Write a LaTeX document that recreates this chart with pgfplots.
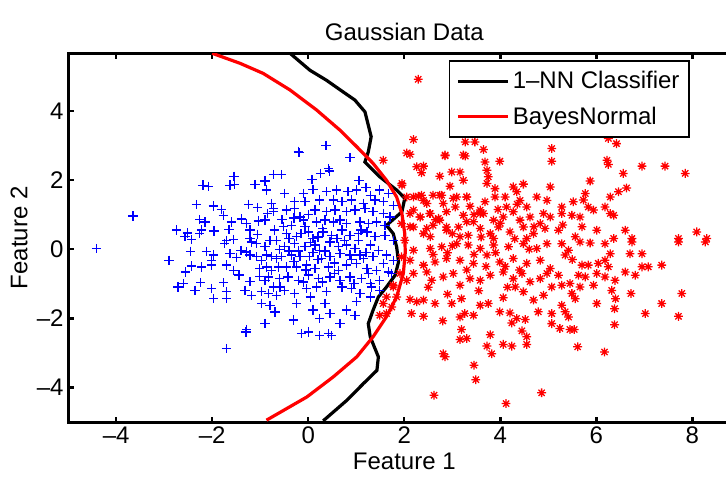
\documentclass[border=0pt]{standalone}
\usepackage{fontspec}
\setmainfont{Liberation Sans}
\usepackage{pgfplots}
\pgfplotsset{compat=1.18}
\pgfdeclareplotmark{mstar}{%
 \pgfpathmoveto{\pgfpoint{\pgfplotmarksize}{0pt}}\pgfpathlineto{\pgfpoint{-\pgfplotmarksize}{0pt}}%
 \pgfpathmoveto{\pgfpoint{0pt}{\pgfplotmarksize}}\pgfpathlineto{\pgfpoint{0pt}{-\pgfplotmarksize}}%
 \pgfpathmoveto{\pgfpoint{0.707\pgfplotmarksize}{0.707\pgfplotmarksize}}\pgfpathlineto{\pgfpoint{-0.707\pgfplotmarksize}{-0.707\pgfplotmarksize}}%
 \pgfpathmoveto{\pgfpoint{-0.707\pgfplotmarksize}{0.707\pgfplotmarksize}}\pgfpathlineto{\pgfpoint{0.707\pgfplotmarksize}{-0.707\pgfplotmarksize}}%
 \pgfusepathqstroke}
\newcommand{\fs}{\fontsize{18}{21}\selectfont}
\begin{document}
\begin{tikzpicture}
\begin{axis}[
 x=36pt, y=25.95pt,
 xmin=-5, xmax=9, ymin=-5, ymax=5.66,
 axis line style={line width=2.2pt},
 tick style={line width=1.8pt, black},
 tick align=inside, major tick length=4pt,
 xtick={-4,-2,0,2,4,6,8}, xticklabels={–4,–2,0,2,4,6,8},
 ytick={-4,-2,0,2,4}, yticklabels={–4,–2,0,2,4},
 ticklabel style={font=\fs},
 label style={font=\fs},
 title style={font=\fs},
 title={Gaussian Data},
 xlabel={Feature 1}, ylabel={Feature 2},
 legend style={at={(0.9245,0.9816)}, anchor=north east, font=\fs, draw=black, line width=1.2pt, cells={anchor=west}, row sep=8pt, inner xsep=5pt, inner ysep=6pt},
 legend image code/.code={\draw[#1] (0pt,0pt) -- (38pt,0pt);},
]
\coordinate (BL) at (axis cs:-6.42,-6.65);
\coordinate (TR) at (axis cs:8.70,7.20);
\addplot[forget plot, only marks, mark=+, color=blue, mark size=3.5pt, mark options={line width=1pt}] table {
-1.55 2.11
-0.72 2.16
-2.19 1.85
-2.08 1.82
-1.63 1.85
-1.53 1.87
-1.11 1.87
-0.90 1.97
-0.87 1.71
-2.33 1.29
-1.98 1.25
-1.81 1.15
-1.77 0.98
-1.24 1.30
-1.06 1.20
-0.76 1.32
-0.72 1.18
-0.85 1.03
-0.73 1.08
-2.26 0.86
-2.15 0.79
-1.60 0.79
-1.39 0.87
-1.28 0.74
-1.04 0.81
-0.90 0.84
-2.74 0.55
-2.52 0.47
-2.57 0.36
-2.43 0.28
-2.22 0.55
-2.26 0.45
-1.96 0.53
-1.65 0.57
-1.21 0.55
-1.06 0.43
-1.21 0.31
-1.70 0.26
-1.74 0.16
-1.56 0.28
-1.40 -0.03
-1.28 -0.08
-1.18 0.21
-1.08 0.16
-0.90 0.07
-0.80 0.26
-0.66 0.26
-2.45 -0.06
-2.12 -0.06
-1.98 -0.17
-2.01 -0.32
-2.01 -0.46
-1.63 -0.13
-1.49 -0.24
-1.21 -0.17
-1.08 -0.22
-0.97 -0.32
-0.87 -0.17
-0.76 -0.22
-0.66 -0.27
-2.90 -0.32
-2.43 -0.49
-2.22 -0.51
-2.55 -0.66
-1.70 -0.46
-1.56 -0.61
-1.44 -0.75
-1.01 -0.56
-0.87 -0.51
-0.76 -0.61
-0.62 -0.51
-2.60 -0.99
-2.71 -1.09
-2.24 -0.97
-2.36 -1.19
-2.01 -1.14
-1.76 -0.97
-1.70 -1.23
-1.21 -0.94
-1.32 -1.19
-1.01 -0.78
-0.90 -0.90
-0.83 -0.80
-0.73 -1.09
-0.59 -1.09
-1.97 -1.43
-1.70 -1.43
-1.18 -1.33
-0.97 -1.23
-0.83 -1.28
-0.66 -1.33
-0.97 -1.57
-0.80 -1.62
-0.69 -1.81
-0.90 -2.15
-1.28 -2.32
-1.30 -2.39
-1.70 -2.87
-4.41 0.02
-3.65 0.96
-0.21 2.83
0.42 2.33
0.37 3.00
-0.19 2.79
0.87 2.65
0.26 2.19
0.44 2.26
0.08 2.01
-0.56 2.16
1.06 1.98
1.20 1.78
-0.49 1.61
-0.10 1.61
0.10 1.72
0.38 1.66
0.59 1.71
0.83 1.66
1.01 1.71
1.29 1.56
1.49 1.71
1.67 1.61
-0.28 1.37
-0.07 1.37
0.24 1.42
0.52 1.42
0.70 1.37
0.90 1.42
1.15 1.32
1.39 1.42
1.56 1.37
1.77 1.27
-0.45 1.13
-0.28 1.18
-0.17 0.93
0.14 1.13
0.38 1.08
0.56 1.13
0.80 1.08
0.97 1.13
1.18 1.18
1.35 1.08
1.56 1.03
1.70 0.93
-0.52 0.65
-0.35 0.69
-0.10 0.84
-0.07 0.65
0.17 0.79
0.35 0.84
0.52 0.79
0.66 0.84
0.80 0.74
1.08 0.79
1.25 0.74
1.42 0.79
1.60 0.69
-0.45 0.45
-0.24 0.36
0.00 0.50
0.10 0.31
0.31 0.50
0.49 0.40
0.70 0.55
0.87 0.40
1.04 0.45
1.22 0.50
1.39 0.36
1.60 0.40
1.77 0.26
-0.49 0.07
-0.28 0.16
-0.07 0.07
0.14 0.12
0.24 -0.03
0.45 0.21
0.63 0.07
0.80 0.12
0.97 0.02
1.08 -0.17
1.29 0.12
1.46 -0.03
1.63 -0.17
-0.56 -0.22
-0.35 -0.17
-0.17 -0.22
0.03 -0.22
0.28 -0.27
0.45 -0.22
0.66 -0.13
0.87 -0.17
1.15 -0.27
1.35 -0.22
1.56 -0.41
1.77 -0.32
-0.45 -0.51
-0.24 -0.51
-0.03 -0.46
0.14 -0.56
0.42 -0.51
0.63 -0.61
0.80 -0.46
1.01 -0.41
1.22 -0.56
1.42 -0.61
1.67 -0.66
-0.42 -0.80
-0.21 -0.90
0.00 -0.75
0.21 -0.85
0.45 -0.80
0.66 -0.90
0.87 -0.80
1.11 -0.85
1.29 -0.99
1.49 -0.90
1.74 -0.70
-0.49 -1.19
-0.28 -1.28
-0.03 -1.14
0.17 -1.09
0.38 -1.23
0.70 -1.09
0.90 -1.14
1.08 -1.28
1.32 -1.09
1.49 -1.19
-0.24 -1.57
0.04 -1.38
0.35 -1.57
1.01 -1.52
1.29 -1.38
0.10 -1.76
0.80 -1.76
0.97 -1.91
-0.31 -2.05
0.24 -2.00
0.45 -1.86
0.66 -2.15
-0.14 -2.44
0.00 -2.39
0.24 -2.49
0.42 -2.44
0.49 -2.49
-0.40 0.30
-0.15 0.45
0.05 0.20
0.20 0.35
0.35 -0.05
0.55 -0.40
-0.30 -0.35
-0.05 -0.60
0.20 -0.30
0.60 0.30
0.90 -0.30
1.05 0.25
-0.60 0.00
-0.40 -0.05
-0.20 -0.05
0.10 -0.10
0.75 0.25
1.20 -0.10
-0.70 0.55
-0.55 0.85
-0.30 0.90
0.00 1.00
0.30 0.60
1.10 0.55
0.55 -0.70
0.30 -0.95
-0.10 -0.95
-0.60 -0.85
1.25 -0.70
0.95 -1.00
};
\addplot[forget plot, only marks, mark=mstar, color=red, mark size=3.3pt, mark options={line width=0.95pt}] table {
2.29 4.91
2.19 3.17
2.05 2.78
2.12 2.74
1.56 2.57
2.85 2.70
3.27 3.10
3.47 3.10
3.65 2.88
3.27 2.69
3.68 2.52
3.99 2.54
5.07 2.91
5.07 2.54
2.26 2.38
2.40 2.40
2.36 2.21
2.74 2.11
2.99 2.23
3.16 2.23
3.23 1.99
3.72 2.28
3.75 2.09
3.72 1.90
2.95 1.82
1.95 1.85
3.89 1.75
4.27 1.80
4.48 1.88
4.34 1.66
5.04 1.80
2.05 1.51
2.29 1.53
2.40 1.41
2.60 1.56
2.78 1.56
2.81 1.32
3.09 1.51
3.30 1.51
3.37 1.24
3.58 1.13
3.68 1.37
3.89 1.51
4.10 1.51
4.13 1.22
4.41 1.41
4.55 1.22
4.76 1.51
4.97 1.41
4.90 1.03
2.19 1.13
2.33 0.93
2.54 1.03
2.71 0.89
2.88 1.08
3.06 1.22
3.23 0.98
3.44 0.79
3.65 1.03
3.86 0.84
4.06 0.93
4.27 1.08
4.41 0.84
4.62 0.93
4.83 0.74
5.04 0.93
2.12 0.65
2.40 0.45
2.60 0.69
2.88 0.55
3.13 0.64
3.33 0.40
3.58 0.60
3.79 0.45
3.96 0.64
4.20 0.50
4.48 0.64
4.69 0.45
4.93 0.60
2.54 0.36
3.16 0.36
3.86 0.31
4.55 0.31
6.25 3.20
6.42 3.05
6.22 2.57
6.25 2.45
6.56 2.19
6.95 2.40
7.43 2.40
7.85 2.19
5.87 1.97
5.77 1.61
6.29 1.51
6.46 1.66
6.63 1.77
5.52 1.37
5.73 1.42
5.28 1.22
5.83 1.22
5.94 1.13
6.18 1.22
6.29 1.03
6.36 0.98
5.28 1.03
5.49 0.98
5.66 0.93
5.21 0.55
5.70 0.65
6.01 0.55
6.60 0.55
5.56 0.36
6.36 0.31
6.74 0.31
7.71 0.31
8.09 0.50
8.30 0.31
2.19 -0.03
2.54 0.02
2.78 0.07
3.09 0.16
3.33 0.12
3.58 0.02
3.86 0.12
4.17 0.07
4.48 0.16
4.76 0.02
4.97 0.16
2.12 -0.32
2.40 -0.46
2.64 -0.37
2.88 -0.27
3.16 -0.32
3.44 -0.41
3.72 -0.17
3.99 -0.37
4.27 -0.27
4.55 -0.41
4.83 -0.32
5.04 -0.56
2.19 -0.70
2.47 -0.66
2.57 -0.90
2.81 -0.80
3.02 -0.70
3.16 -1.04
3.37 -0.85
3.58 -0.90
3.79 -0.75
4.06 -0.66
4.27 -0.85
4.45 -0.70
4.62 -0.94
4.83 -0.85
4.97 -0.70
2.12 -1.45
2.26 -1.52
2.40 -1.47
2.64 -1.57
2.99 -1.57
3.19 -1.43
3.58 -1.62
3.75 -1.57
4.06 -1.40
4.31 -1.09
4.48 -1.23
4.69 -1.47
4.90 -1.33
5.07 -1.09
2.15 -1.86
2.40 -1.94
2.80 -2.07
3.16 -1.96
3.26 -1.86
3.44 -1.91
3.99 -1.81
4.20 -1.84
4.34 -2.00
4.52 -2.03
4.79 -1.81
5.07 -1.86
5.07 -2.15
3.19 -2.32
3.30 -2.58
3.16 -2.61
3.79 -2.47
4.24 -2.13
4.45 -2.36
4.55 -2.53
4.06 -2.75
4.24 -2.80
4.55 -2.75
3.72 -2.80
3.82 -3.02
2.81 -3.02
2.85 -3.11
3.45 -3.35
3.49 -3.77
2.62 -4.22
4.12 -4.46
4.86 -4.15
1.74 -1.67
1.63 -1.86
1.77 -1.04
1.84 -1.38
5.28 0.16
5.66 0.21
5.87 0.18
6.18 0.16
6.74 0.21
7.71 0.21
8.27 0.21
5.35 -0.17
5.42 -0.03
6.29 -0.13
6.70 -0.13
6.95 -0.13
5.70 -0.46
5.83 -0.46
6.04 -0.41
6.18 -0.32
6.25 -0.51
6.60 -0.66
6.81 -0.75
6.95 -0.51
7.08 -0.51
7.36 -0.46
5.21 -0.75
5.63 -0.75
5.77 -0.80
6.01 -0.70
6.18 -0.80
6.39 -0.90
5.94 -1.04
5.28 -1.04
5.45 -0.99
5.66 -1.09
5.49 -1.28
5.56 -1.43
6.32 -1.19
6.40 -1.43
6.72 -1.28
7.78 -1.28
5.28 -1.62
5.35 -1.81
5.42 -1.96
6.01 -1.57
6.38 -1.72
7.02 -1.86
7.36 -1.57
7.71 -1.94
5.24 -2.29
5.45 -2.32
5.54 -2.32
6.38 -2.18
5.61 -2.82
6.17 -2.97
2.85 2.72
3.23 2.72
2.19 1.51
2.36 1.56
2.47 1.32
2.74 1.56
3.02 1.47
3.30 1.51
2.12 1.03
2.33 0.93
2.53 1.03
2.74 0.84
2.19 0.64
2.47 0.60
2.88 0.64
3.30 0.79
3.58 1.03
1.95 1.90
1.94 0.74
2.01 0.26
1.94 -0.22
1.91 -0.70
1.77 -1.09
1.63 -1.38
1.56 -1.57
1.49 -1.91
2.05 -0.90
3.00 0.10
3.45 -0.15
3.90 -0.10
4.30 0.30
4.10 -0.50
3.70 -0.50
3.30 -0.60
2.90 -0.10
4.60 0.00
4.40 -0.60
3.60 0.35
3.00 0.45
2.60 -0.15
4.00 0.75
4.70 0.65
3.45 1.00
2.65 0.85
4.15 -1.10
3.55 -1.20
2.90 -1.30
5.30 0.70
5.50 -0.30
4.35 1.30
3.95 1.15
2.50 -1.10
};
\addplot[black, line width=2.4pt] table {
-0.38 5.66
0.035 5.17
0.38 4.88
0.72 4.55
0.97 4.31
1.18 3.97
1.24 3.64
1.31 3.25
1.25 2.81
1.18 2.52
1.49 2.09
1.84 1.71
2.01 1.47
1.95 1.08
1.63 0.69
1.77 0.45
1.84 0.07
1.88 -0.37
1.81 -0.75
1.63 -1.09
1.46 -1.38
1.35 -1.76
1.25 -2.15
1.29 -2.53
1.46 -3.11
1.43 -3.50
1.15 -3.88
0.80 -4.37
0.31 -4.96
};
\addlegendentry{1–NN Classifier}
\addplot[red, line width=2.4pt] table {
-2.00 5.66
-1.42 5.37
-0.94 5.08
-0.38 4.60
0.175 4.02
0.66 3.44
1.01 2.96
1.35 2.48
1.63 1.99
1.84 1.51
1.95 1.03
2.01 0.45
2.02 -0.10
1.98 -0.70
1.84 -1.38
1.63 -1.95
1.35 -2.53
1.01 -3.11
0.52 -3.69
-0.03 -4.27
-0.87 -4.94
};
\addlegendentry{BayesNormal}
\end{axis}
\pgfresetboundingbox
\useasboundingbox (BL) rectangle (TR);
\end{tikzpicture}
\end{document}
